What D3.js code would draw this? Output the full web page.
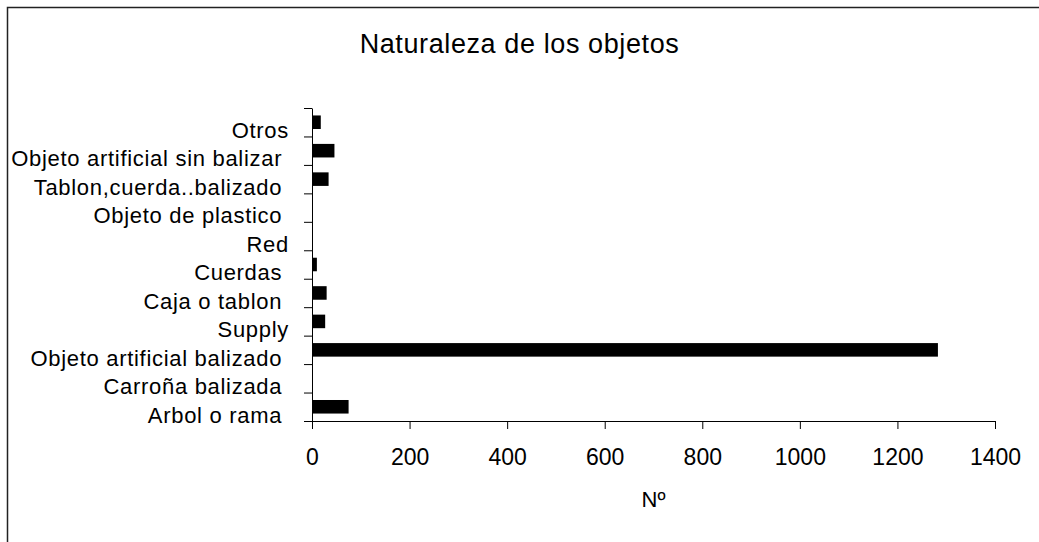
<!DOCTYPE html>
<html>
<head>
    <meta charset="utf-8">
    <title>Naturaleza de los objetos</title>
    <script type="text/javascript" src="https://d3js.org/d3.v7.min.js"></script>
    <style>
        body { margin: 0; background: #fff; }
        text { font-family: "Liberation Sans", Arial, sans-serif; fill: #000; }
    </style>
</head>
<body>
    <svg width="1039" height="542"></svg>

    <script>
        // categorias de abajo hacia arriba (algunas llevan espacio final como en el original)
        var categorias = ["Arbol o rama ", "Carroña balizada ", "Objeto artificial balizado ", "Supply",
            "Caja o tablon ", "Cuerdas ", "Red", "Objeto de plastico ", "Tablon,cuerda..balizado ",
            "Objeto artificial sin balizar ", "Otros"];
        var valores = [75, 0, 1283, 27, 30, 10, 0, 0, 34, 46, 18];
        var ticksX = [0, 200, 400, 600, 800, 1000, 1200, 1400];

        var titulo = "Naturaleza de los objetos";
        var tituloX = "Nº";

        var svg = d3.select("svg");
        var datos = categorias.map(function (c, i) { return { cat: c, val: valores[i] }; });

        var marge = { top: 108, bottom: 121, left: 312, right: 44 };
        var width = +svg.attr("width");
        var height = +svg.attr("height");

        // marco del grafico
        svg.append("rect")
            .attr("x", 7.5).attr("y", 7.5)
            .attr("width", width + 10).attr("height", height + 10)
            .attr("fill", "none")
            .attr("stroke", "#222")
            .attr("stroke-width", 1.5);

        svg.append("text")
            .attr("x", width / 2)
            .attr("y", 53)
            .attr("text-anchor", "middle")
            .style("font-size", "27px")
            .style("letter-spacing", "0.6px")
            .text(titulo);

        var x = d3.scaleLinear()
            .domain([0, 1400])
            .range([marge.left, width - marge.right]);

        // Otros arriba
        var y = d3.scaleBand()
            .domain(categorias.slice().reverse())
            .range([marge.top, height - marge.bottom])
            .padding(0);

        var bordes = d3.scaleLinear()
            .domain([0, categorias.length])
            .range([marge.top, height - marge.bottom]);

        var alto = y.bandwidth() / 2.1;

        svg.append("g")
            .selectAll("rect")
            .data(datos)
            .enter()
            .append("rect")
            .attr("x", x(0))
            .attr("y", function (d) { return y(d.cat) + (y.bandwidth() - alto) / 2; })
            .attr("width", function (d) { return x(d.val) - x(0); })
            .attr("height", alto)
            .attr("fill", "#000");

        // eje x
        var ejeX = svg.append("g")
            .attr("transform", "translate(0," + (height - marge.bottom) + ")")
            .call(d3.axisBottom(x).tickValues(ticksX).tickFormat(d3.format("d")).tickSize(8).tickSizeOuter(0));
        ejeX.selectAll("text")
            .attr("y", 44)
            .attr("dy", 0)
            .style("font-size", "23px");

        // eje y: marcas en los limites de cada categoria
        var ejeY = svg.append("g")
            .attr("transform", "translate(" + marge.left + ",0)")
            .call(d3.axisLeft(bordes).tickValues(d3.range(categorias.length + 1)).tickSize(8).tickSizeOuter(0).tickFormat(""));

        svg.selectAll(".domain, .tick line").attr("stroke", "#000");

        svg.append("g")
            .selectAll("text")
            .data(datos)
            .enter()
            .append("text")
            .attr("x", 289)
            .attr("y", function (d) { return y(d.cat) + y.bandwidth() + 1.5; })
            .attr("text-anchor", "end")
            .style("white-space", "pre")
            .style("font-size", "22px")
            .style("letter-spacing", "0.7px")
            .text(function (d) { return d.cat; });

        svg.append("text")
            .attr("x", (x(0) + x(1400)) / 2)
            .attr("y", 507)
            .attr("text-anchor", "middle")
            .style("font-size", "22px")
            .text(tituloX);
    </script>
</body>
</html>
